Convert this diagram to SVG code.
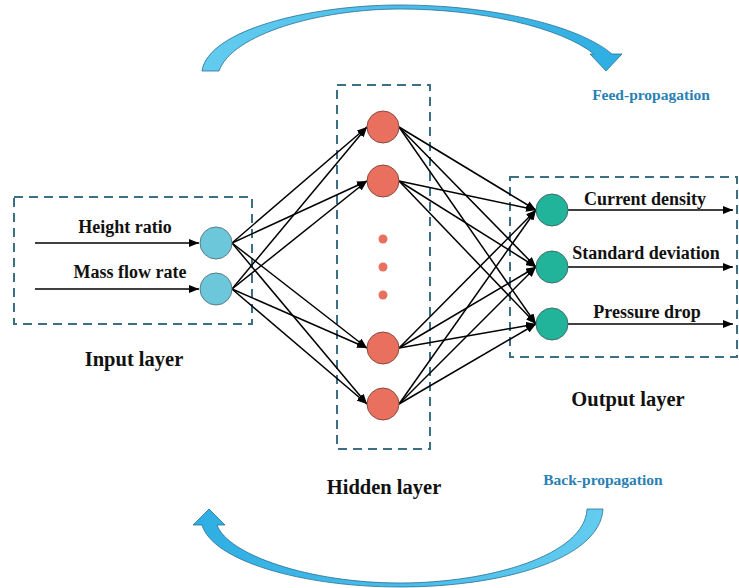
<svg xmlns="http://www.w3.org/2000/svg" width="739" height="588" viewBox="0 0 739 588">
<defs>
<marker id="ah" viewBox="0 0 10 8" refX="10" refY="4" markerWidth="10" markerHeight="8" markerUnits="userSpaceOnUse" orient="auto">
<path d="M0,0 L10,4 L0,8 Z" fill="#000"/>
</marker>
<linearGradient id="gTop" x1="0" y1="0" x2="1" y2="0">
<stop offset="0" stop-color="#63CCEF"/>
<stop offset="1" stop-color="#2EAEE3"/>
</linearGradient>
<linearGradient id="gBot" x1="1" y1="0" x2="0" y2="0">
<stop offset="0" stop-color="#63CCEF"/>
<stop offset="1" stop-color="#2EAEE3"/>
</linearGradient>
</defs>
<style>
.box{fill:none;stroke:#3B6F86;stroke-width:2;stroke-dasharray:9 6}
.lbl{font-family:"Liberation Serif","Times New Roman",serif;font-weight:bold;font-size:18px;fill:#111;text-anchor:middle}
.layer{font-family:"Liberation Serif","Times New Roman",serif;font-weight:bold;font-size:20.5px;fill:#111;text-anchor:middle}
.prop{font-family:"Liberation Serif","Times New Roman",serif;font-weight:bold;font-size:15.5px;fill:#2A80B2;text-anchor:middle}
.in{fill:#6CC7DB;stroke:#5B7C86;stroke-width:1}
.hid{fill:#E9705E;stroke:#8A4B40;stroke-width:1}
.out{fill:#22B39B;stroke:#3C6E68;stroke-width:1}
.dot{fill:#E9705E}
.c{stroke:#000;stroke-width:1.5;fill:none;marker-end:url(#ah)}
.arc{stroke:#2C6E93;stroke-width:0.8}
</style>
<rect width="739" height="588" fill="#fff"/>

<g id="feed-arrow">
<path class="arc" fill="url(#gTop)" d="M202,71 C208,30 310,5 400,5 C490,5 578,25 612,54 L622,54 L606,71 L590,54 L594,54 C560,27 480,9 400,9 C320,9 232,34 219,71 Z"/>
<text class="prop" x="651" y="100">Feed-propagation</text>
</g>
<g id="back-arrow">
<path class="arc" fill="url(#gBot)" d="M603,509 C600,560 500,587 400,587 C300,587 212,560 202,525 L193,525 L209,509 L225,525 L217,525 C228,555 310,583 400,583 C490,583 585,555 587,509 Z"/>
<text class="prop" x="603" y="485">Back-propagation</text>
</g>

<g id="input-layer">
<rect class="box" x="14" y="197" width="238" height="127"/>
<text class="layer" x="134" y="366">Input layer</text>
</g>
<g id="hidden-layer">
<rect class="box" x="337" y="85" width="93" height="364"/>
<text class="layer" x="384" y="494">Hidden layer</text>
</g>
<g id="output-layer">
<rect class="box" x="510" y="177" width="227" height="180"/>
<text class="layer" x="628" y="406">Output layer</text>
</g>

<g id="connectors">
<line class="c" x1="35" y1="243" x2="199" y2="243"/>
<line class="c" x1="35" y1="289" x2="199" y2="289"/>
<line class="c" x1="232" y1="243" x2="367" y2="127"/>
<line class="c" x1="232" y1="243" x2="367" y2="181"/>
<line class="c" x1="232" y1="243" x2="367" y2="348"/>
<line class="c" x1="232" y1="243" x2="367" y2="404"/>
<line class="c" x1="232" y1="289" x2="367" y2="127"/>
<line class="c" x1="232" y1="289" x2="367" y2="181"/>
<line class="c" x1="232" y1="289" x2="367" y2="348"/>
<line class="c" x1="232" y1="289" x2="367" y2="404"/>
<line class="c" x1="399" y1="127" x2="536" y2="210"/>
<line class="c" x1="399" y1="127" x2="536" y2="267"/>
<line class="c" x1="399" y1="127" x2="536" y2="324"/>
<line class="c" x1="399" y1="181" x2="536" y2="210"/>
<line class="c" x1="399" y1="181" x2="536" y2="267"/>
<line class="c" x1="399" y1="181" x2="536" y2="324"/>
<line class="c" x1="399" y1="348" x2="536" y2="210"/>
<line class="c" x1="399" y1="348" x2="536" y2="267"/>
<line class="c" x1="399" y1="348" x2="536" y2="324"/>
<line class="c" x1="399" y1="404" x2="536" y2="210"/>
<line class="c" x1="399" y1="404" x2="536" y2="267"/>
<line class="c" x1="399" y1="404" x2="536" y2="324"/>
<line class="c" x1="568" y1="210" x2="733" y2="210"/>
<line class="c" x1="568" y1="267" x2="733" y2="267"/>
<line class="c" x1="568" y1="324" x2="733" y2="324"/>
</g>

<g id="in1"><circle class="in" cx="216" cy="243" r="16"/><text class="lbl" x="125" y="233">Height ratio</text></g>
<g id="in2"><circle class="in" cx="216" cy="289" r="16"/><text class="lbl" x="130" y="278">Mass flow rate</text></g>

<g id="h1"><circle class="hid" cx="383" cy="127" r="16"/></g>
<g id="h2"><circle class="hid" cx="383" cy="181" r="16"/></g>
<g id="h-dots"><circle class="dot" cx="383" cy="239" r="4.5"/><circle class="dot" cx="383" cy="267" r="4.5"/><circle class="dot" cx="383" cy="295" r="4.5"/></g>
<g id="h3"><circle class="hid" cx="383" cy="348" r="16"/></g>
<g id="h4"><circle class="hid" cx="383" cy="404" r="16"/></g>

<g id="o1"><circle class="out" cx="552" cy="210" r="16"/><text class="lbl" x="645" y="205">Current density</text></g>
<g id="o2"><circle class="out" cx="552" cy="267" r="16"/><text class="lbl" x="646" y="259">Standard deviation</text></g>
<g id="o3"><circle class="out" cx="552" cy="324" r="16"/><text class="lbl" x="647" y="318">Pressure drop</text></g>
</svg>
